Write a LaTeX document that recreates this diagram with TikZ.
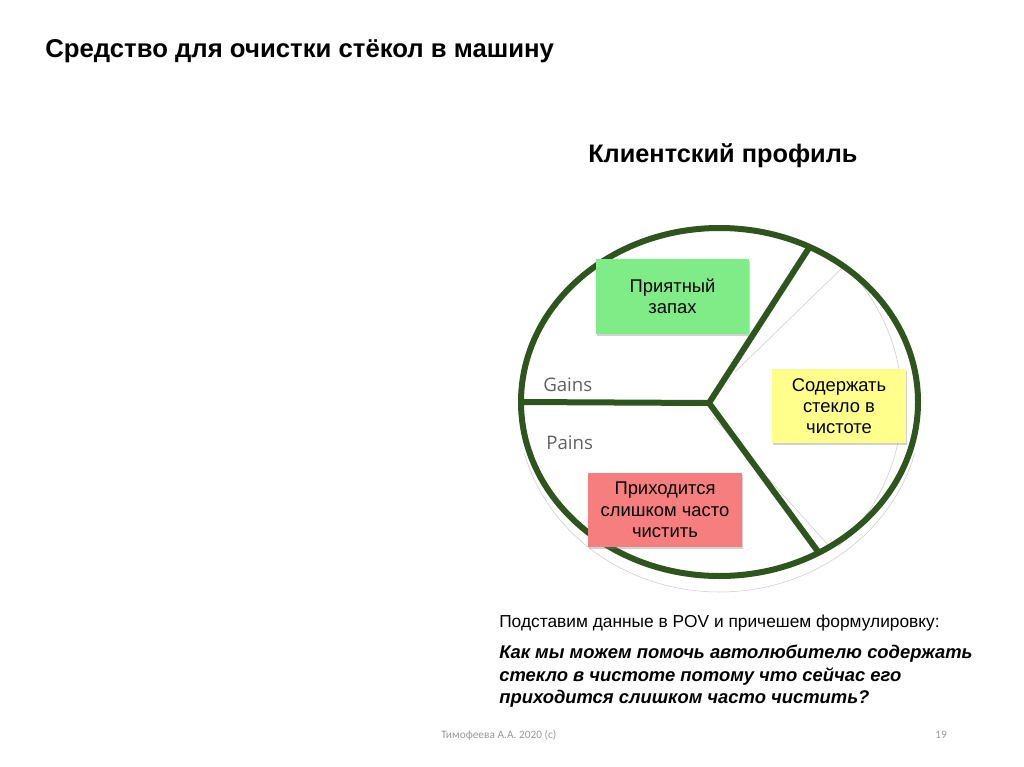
\documentclass[tikz,border=0pt]{standalone}
\usepackage{fontspec}
\setmainfont{Liberation Sans}
\newfontfamily\gainsfont{Open Sans}
\newfontfamily\footfont{Carlito}
\usetikzlibrary{shadows}
\definecolor{rim}{RGB}{47,85,30}
\definecolor{stickgreen}{RGB}{128,236,136}
\definecolor{stickyellow}{RGB}{255,255,140}
\definecolor{stickred}{RGB}{246,126,126}

\begin{document}
\begin{tikzpicture}[x=0.75pt,y=-0.75pt,
		txt/.style={anchor=base west,inner sep=0pt},
		note/.style={align=center,inner sep=0pt,font=\fontsize{13.8}{16}\selectfont,
			drop shadow={shadow xshift=1pt,shadow yshift=-1.5pt,opacity=0.35}},
		side/.style={txt,text=black!62,font=\gainsfont\fontsize{14}{16}\selectfont},
		spoke/.style={draw=rim,line width=4.5pt},
		trace/.style={draw=black!20,line width=0.4pt},
		ask/.style={txt,font=\bfseries\itshape\fontsize{13.8}{17}\selectfont}]
	\useasboundingbox (0,0) rectangle (1024,767);
	\fill[white] (0,0) rectangle (1024,767);
	% headings
	\node[txt,font=\bfseries\fontsize{19.3}{22}\selectfont] (title) at (45,58) {Средство для очистки стёкол в машину};
	\node[txt,font=\bfseries\fontsize{19}{22}\selectfont] (profile) at (588,162) {Клиентский профиль};
	% profile circle
	\coordinate (hub) at (709,403);
	\coordinate (left) at (521,402);
	\coordinate (upper) at (809.6,247);
	\coordinate (lower) at (818.8,552.7);
	\draw[trace,domain=15:165,samples=60,smooth] plot ({719.5+202*cos(\x)},{405+187*sin(\x)});
	\draw[trace] (735,372) -- (843,267);
	\draw[trace] (713,417) -- (830,547);
	\draw[trace,domain=-40:48,samples=40,smooth] plot ({709+193*cos(\x)},{403+193*sin(\x)});
	\draw[spoke] (719.5,402) ellipse [x radius=198.5,y radius=174];
	\draw[spoke,line join=miter] (left) -- (hub) -- (upper);
	\draw[spoke] (hub) -- (lower);
	\node[side] (gains) at (543,391) {Gains};
	\node[side] (pains) at (546,449) {Pains};
	% sticky notes
	\node[note,fill=stickgreen,minimum width=114.75pt,minimum height=56.25pt] (smell) at (672.5,296.5) {Приятный\\запах};
	\node[note,fill=stickyellow,minimum width=100.5pt,minimum height=55.5pt] (clean) at (839,406) {Содержать\\стекло в\\чистоте};
	\node[note,fill=stickred,minimum width=115.5pt,minimum height=55.5pt] (often) at (665,510) {Приходится\\слишком часто\\чистить};
	% POV
	\node[txt,font=\fontsize{13}{16}\selectfont] (pov) at (499,627) {Подставим данные в POV и причешем формулировку:};
	\foreach \yy/\ln in {658/{Как мы можем помочь автолюбителю содержать},
		681/{стекло в чистоте потому что сейчас его},
		703/{приходится слишком часто чистить?}}{
		\node[ask] (ask\yy) at (499,\yy) {\ln};
	}
	% footer
	\node[txt,text=black!40,font=\footfont\fontsize{8.5}{10}\selectfont] (author) at (441,738) {Тимофеева А.А. 2020 (c)};
	\node[txt,text=black!40,font=\footfont\fontsize{8.5}{10}\selectfont] (page) at (935,738) {19};
\end{tikzpicture}
\end{document}
